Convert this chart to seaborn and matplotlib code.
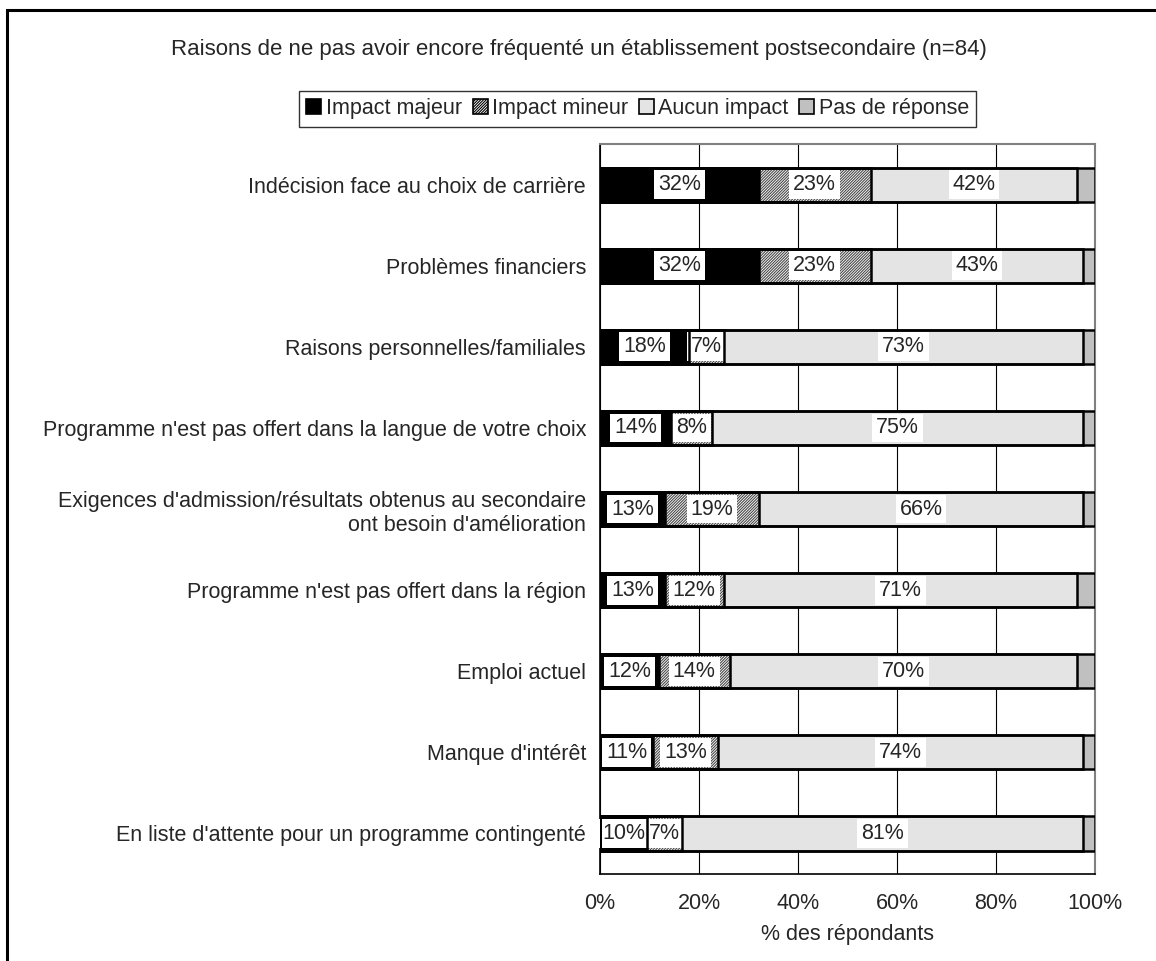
import numpy as np
import pandas as pd
import matplotlib
matplotlib.use("Agg")
import matplotlib.pyplot as plt
import matplotlib.patches as mpatches
import seaborn as sns

# Data (% of respondents, n=84)
categories = [
    "Indécision face au choix de carrière",
    "Problèmes financiers",
    "Raisons personnelles/familiales",
    "Programme n'est pas offert dans la langue de votre choix",
    "Exigences d'admission/résultats obtenus au secondaire\nont besoin d'amélioration",
    "Programme n'est pas offert dans la région",
    "Emploi actuel",
    "Manque d'intérêt",
    "En liste d'attente pour un programme contingenté",
]
impact_majeur = [32.1, 32.1, 17.9, 14.3, 13.1, 13.1, 11.9, 10.7, 9.5]
impact_mineur = [22.6, 22.6, 7.1, 8.3, 19.0, 11.9, 14.3, 13.1, 7.1]
aucun_impact = [41.7, 42.9, 72.6, 75.0, 65.5, 71.4, 70.2, 73.8, 81.0]
pas_de_reponse = [3.6, 2.4, 2.4, 2.4, 2.4, 3.6, 3.6, 2.4, 2.4]

series_names = ["Impact majeur", "Impact mineur", "Aucun impact", "Pas de réponse"]

df = pd.DataFrame({
    "categorie": categories,
    "Impact majeur": impact_majeur,
    "Impact mineur": impact_mineur,
    "Aucun impact": aucun_impact,
    "Pas de réponse": pas_de_reponse,
})
cum = df[series_names].cumsum(axis=1)

sns.set_style("white")
plt.rcParams["font.family"] = ["Liberation Sans", "DejaVu Sans"]
plt.rcParams["hatch.linewidth"] = 0.8

FS = 15.5

fig = plt.figure(figsize=(11.56, 9.61), dpi=100)
ax = fig.add_axes([0.519, 0.0905, 0.4282, 0.7596])

styles = {
    "Impact majeur": dict(color="black", hatch=None),
    "Impact mineur": dict(color="white", hatch="////////////"),
    "Aucun impact": dict(color="#e4e4e4", hatch=None),
    "Pas de réponse": dict(color="#c0c0c0", hatch=None),
}
BAR_W = 0.42

# stacked bars: draw cumulative totals from the last series back to the first
for name in reversed(series_names):
    st = styles[name]
    sns.barplot(x=cum[name], y=df["categorie"], orient="h", ax=ax,
                color=st["color"], width=BAR_W, edgecolor="#4a4a4a",
                linewidth=0, hatch=st["hatch"], saturation=1, zorder=3)

# black outlines on top of fills and labels
for name in series_names:
    sns.barplot(x=cum[name], y=df["categorie"], orient="h", ax=ax,
                color="black", fill=False, width=BAR_W, linewidth=1.8,
                saturation=1, zorder=6)

# percentage labels in the middle of each segment
for i in range(len(categories)):
    start = 0
    for name in series_names[:3]:
        v = df[name][i]
        ax.text(start + v / 2, i, f"{v:.0f}%", ha="center", va="center",
                fontsize=FS, zorder=5,
                bbox=dict(facecolor="white", edgecolor="none", pad=2.8))
        start += v

ax.set_xlim(0, 100)
ax.set_ylim(len(categories) - 0.5, -0.5)
ax.set_xticks(np.arange(0, 101, 20))
ax.set_xticklabels([f"{t}%" for t in range(0, 101, 20)], fontsize=FS)
ax.xaxis.grid(True, color="black", linewidth=0.8, zorder=0)
ax.set_axisbelow(True)
ax.tick_params(axis="x", direction="out", length=5, width=1, color="black", pad=9)
ax.set_xlabel("% des répondants", fontsize=FS, labelpad=7)
ax.set_ylabel("")

ax.set_yticks(range(len(categories)))
ax.set_yticklabels(categories, fontsize=FS, ha="right", multialignment="right")
ax.tick_params(axis="y", which="major", length=0, pad=10)
ax.set_yticks(np.arange(-0.5, len(categories), 1), minor=True)
ax.tick_params(axis="y", which="minor", direction="out", length=5, width=1, color="black")

for side in ["left", "bottom"]:
    ax.spines[side].set_color("black")
    ax.spines[side].set_linewidth(1.2)
for side in ["top", "right"]:
    ax.spines[side].set_color("#808080")
    ax.spines[side].set_linewidth(1.5)

handles = [
    mpatches.Patch(facecolor=styles[n]["color"], edgecolor="black",
                   hatch=styles[n]["hatch"], linewidth=1.2, label=n)
    for n in series_names
]
leg = fig.legend(handles=handles, loc="center", bbox_to_anchor=(0.5515, 0.8866),
                 ncol=4, fontsize=FS, frameon=True, fancybox=False,
                 handlelength=0.7, handleheight=0.7, handletextpad=0.2,
                 columnspacing=0.5, borderpad=0.35)
leg.get_frame().set_edgecolor("black")
leg.get_frame().set_linewidth(1.0)

fig.text(0.501, 0.948,
         "Raisons de ne pas avoir encore fréquenté un établissement postsecondaire (n=84)",
         ha="center", va="center", fontsize=16)

# outer frame of the chart area (right and bottom edges fall outside the image)
fig.patches.append(mpatches.Rectangle((7 / 1156, -0.05), 1.2, 1.05 - 10 / 961,
                                      transform=fig.transFigure, fill=False,
                                      edgecolor="black", linewidth=2.2))

fig.savefig("out.png", dpi=100)
